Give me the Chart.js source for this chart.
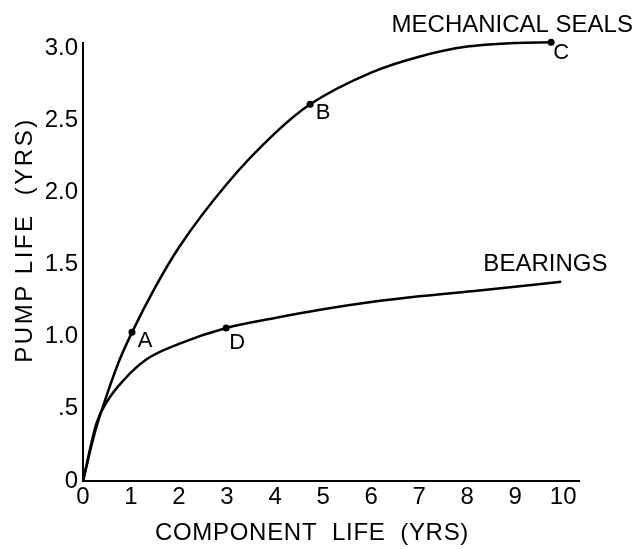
<!DOCTYPE html>
<html><head><meta charset="utf-8">
<script src="https://cdn.jsdelivr.net/npm/chart.js@4/dist/chart.umd.min.js"></script>
<style>html,body{margin:0;padding:0;background:#fff;}#wrap{width:642px;height:549px;position:relative;}</style>
</head><body><div id="wrap"><canvas id="c" width="642" height="549"></canvas></div>
<script>
// Mechanical seals curve (component life yrs -> pump life yrs)
const mechX = [0, 0.25, 0.5, 0.75, 1.02, 1.5, 2, 3, 4, 4.73, 6, 7, 8, 9, 9.75];
const mechY = [0, 0.34, 0.60, 0.83, 1.03, 1.34, 1.62, 2.06, 2.41, 2.61, 2.83, 2.94, 3.01, 3.035, 3.04];
// Bearings curve
const bearX = [0, 0.28, 0.5, 0.85, 1.31, 2, 2.98, 4, 5, 6, 7, 8.25, 9.96];
const bearY = [0, 0.40, 0.55, 0.70, 0.84, 0.95, 1.06, 1.13, 1.19, 1.24, 1.28, 1.32, 1.38];
// Marked points
const pointNames = ['A', 'B', 'C', 'D'];
const pointX = [1.02, 4.73, 9.75, 2.98];
const pointY = [1.03, 2.61, 3.04, 1.06];
// Ticks
const xTickValues = [0, 1, 2, 3, 4, 5, 6, 7, 8, 9, 10];
const yTickValues = [0, 0.5, 1, 1.5, 2, 2.5, 3];
const yTickLabels = ['0', '.5', '1.0', '1.5', '2.0', '2.5', '3.0'];
// Text
const seriesNames = ['MECHANICAL SEALS', 'BEARINGS'];
const seriesNameAnchorX = [8.94, 9.63];
const seriesNameAnchorY = [3.16, 1.50];
const xTitle = 'COMPONENT  LIFE  (YRS)';
const yTitle = 'PUMP LIFE  (YRS)';

const FONT = "'Liberation Sans', Arial, Helvetica, sans-serif";
Chart.defaults.font.family = FONT;
Chart.defaults.font.size = 24;
Chart.defaults.color = '#000';

const toXY = (xs, ys) => xs.map((x, i) => ({x: x, y: ys[i]}));

const textPlugin = {
  id: 'texts',
  afterDraw(chart) {
    const ctx = chart.ctx, sx = chart.scales.x, sy = chart.scales.y;
    ctx.save();
    ctx.fillStyle = '#000';
    ctx.textAlign = 'center';
    ctx.textBaseline = 'middle';
    // point letters
    ctx.font = '22px ' + FONT;
    const offs = [[13, 9], [13, 9], [10, 11], [11, 15]];
    pointNames.forEach((n, i) => {
      const px = sx.getPixelForValue(pointX[i]) + offs[i][0];
      const py = sy.getPixelForValue(pointY[i]) + offs[i][1];
      ctx.fillText(n, px, py);
    });
    // series names
    ctx.font = '24px ' + FONT;
    seriesNames.forEach((n, i) => {
      ctx.fillText(n, sx.getPixelForValue(seriesNameAnchorX[i]), sy.getPixelForValue(seriesNameAnchorY[i]));
    });
    // axis titles
    ctx.letterSpacing = '0.7px';
    ctx.fillText(xTitle, 312, 533);
    ctx.letterSpacing = '2.5px';
    ctx.translate(25, 240);
    ctx.rotate(-Math.PI / 2);
    ctx.fillText(yTitle, 0, 0);
    ctx.restore();
  }
};

new Chart(document.getElementById('c'), {
  type: 'scatter',
  data: {
    datasets: [
      { label: seriesNames[0], data: toXY(mechX, mechY), showLine: true, borderColor: '#000', borderWidth: 2.5,
        pointRadius: 0, cubicInterpolationMode: 'monotone', fill: false },
      { label: seriesNames[1], data: toXY(bearX, bearY), showLine: true, borderColor: '#000', borderWidth: 2.5,
        pointRadius: 0, cubicInterpolationMode: 'monotone', fill: false },
      { label: 'points', data: toXY(pointX, pointY), showLine: false, pointRadius: 3.5,
        pointBackgroundColor: '#000', pointBorderColor: '#000', pointBorderWidth: 0 }
    ]
  },
  options: {
    responsive: false,
    animation: false,
    devicePixelRatio: 1,
    clip: false,
    layout: { padding: { left: 0, right: 63, top: 43, bottom: 0 } },
    plugins: { legend: { display: false }, tooltip: { enabled: false } },
    scales: {
      x: {
        type: 'linear', min: 0, max: 10.33,
        grid: { display: false, drawTicks: false },
        border: { display: true, color: '#000', width: 2 },
        afterBuildTicks: s => { s.ticks = xTickValues.map(v => ({ value: v })); },
        afterFit: s => { s.height = 68; },
        ticks: { autoSkip: false, maxRotation: 0, padding: 2, font: { size: 24 }, callback: v => String(v) }
      },
      y: {
        type: 'linear', min: 0, max: 3.035,
        grid: { display: false, drawTicks: false },
        border: { display: true, color: '#000', width: 2 },
        afterBuildTicks: s => { s.ticks = yTickValues.map(v => ({ value: v })); },
        afterFit: s => { s.width = 83; },
        ticks: { padding: 5, font: { size: 24 },
          callback: v => { const i = yTickValues.indexOf(v); return i >= 0 ? yTickLabels[i] : ''; } }
      }
    }
  },
  plugins: [textPlugin]
});
</script>
</body></html>
